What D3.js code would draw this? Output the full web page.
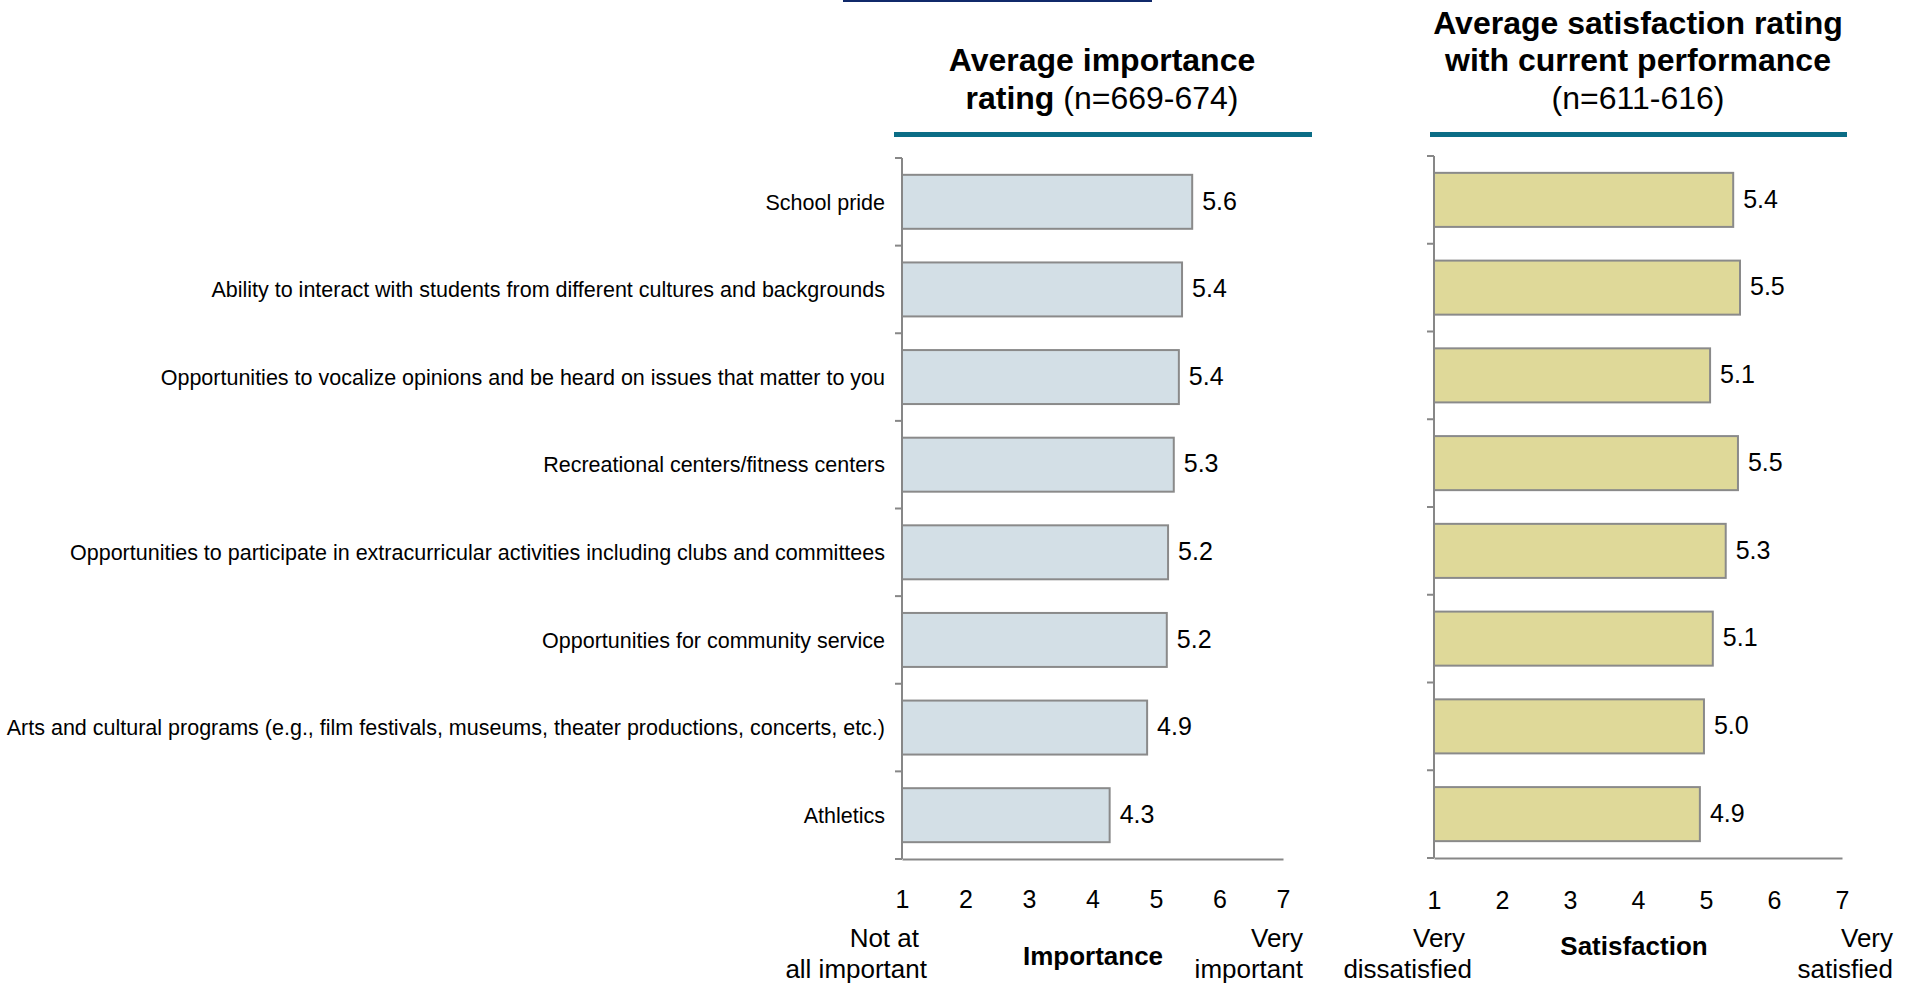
<!DOCTYPE html>
<html>
<head>
<meta charset="utf-8">
<script src="https://cdn.jsdelivr.net/npm/d3@7"></script>
<style>
  html, body { margin: 0; padding: 0; background: #ffffff; }
  svg { display: block; font-family: "Liberation Sans", Arial, Helvetica, sans-serif; }
</style>
</head>
<body>
<svg id="chart" width="1910" height="985"></svg>
<script>
// ---------- data ----------
const categories = [
  "School pride",
  "Ability to interact with students from different cultures and backgrounds",
  "Opportunities to vocalize opinions and be heard on issues that matter to you",
  "Recreational centers/fitness centers",
  "Opportunities to participate in extracurricular activities including clubs and committees",
  "Opportunities for community service",
  "Arts and cultural programs (e.g., film festivals, museums, theater productions, concerts, etc.)",
  "Athletics"
];
const importance = [5.57, 5.41, 5.36, 5.28, 5.19, 5.17, 4.86, 4.27];
const satisfaction = [5.40, 5.50, 5.06, 5.47, 5.29, 5.10, 4.97, 4.91];
const scaleTicks = [1, 2, 3, 4, 5, 6, 7];
const importanceTitle = ["Average importance", ["rating", " (n=669-674)"]];
const satisfactionTitle = ["Average satisfaction rating", "with current performance", "(n=611-616)"];
const importanceAnchors = [["Not at", "all important"], "Importance", ["Very", "important"]];
const satisfactionAnchors = [["Very", "dissatisfied"], "Satisfaction", ["Very", "satisfied"]];

// ---------- drawing ----------
const svg = d3.select("#chart");
const fmt = v => (Math.round(v * 10) / 10).toFixed(1);
const AXIS = "#878787";

// navy rule at very top
svg.append("line").attr("x1", 843).attr("x2", 1152).attr("y1", 1).attr("y2", 1)
  .attr("stroke", "#10296a").attr("stroke-width", 2);

function panel(opts) {
  const x = d3.scaleLinear().domain([1, 7]).range(opts.xr);
  const y = d3.scaleBand().domain(categories).range(opts.yr)
    .paddingInner(0.384).paddingOuter(0.192);
  const g = svg.append("g");

  // teal rule under title
  g.append("rect").attr("x", opts.rule[0]).attr("width", opts.rule[1] - opts.rule[0])
    .attr("y", 132).attr("height", 5).attr("fill", "#0b6d86");

  // bars
  g.selectAll("rect.bar").data(opts.values).join("rect").attr("class", "bar")
    .attr("x", x(1)).attr("y", (d, i) => y(categories[i]))
    .attr("width", d => x(d) - x(1)).attr("height", y.bandwidth())
    .attr("fill", opts.fill).attr("stroke", "#8a8a8a").attr("stroke-width", 2);

  // value labels
  g.selectAll("text.val").data(opts.values).join("text").attr("class", "val")
    .attr("x", d => x(d) + 10)
    .attr("y", (d, i) => y(categories[i]) + y.bandwidth() / 2)
    .attr("dy", "0.31em").attr("font-size", 25).attr("fill", "#000")
    .text(d => fmt(d));

  // category axis: line and ticks at category boundaries
  const yb = d3.scaleLinear().domain([0, categories.length]).range(opts.yr);
  g.append("line").attr("x1", x(1)).attr("x2", x(1)).attr("y1", yb(0)).attr("y2", yb(categories.length))
    .attr("stroke", AXIS).attr("stroke-width", 2);
  g.selectAll("line.yt").data(d3.range(categories.length + 1)).join("line").attr("class", "yt")
    .attr("x1", x(1) - 7).attr("x2", x(1)).attr("y1", d => yb(d)).attr("y2", d => yb(d))
    .attr("stroke", AXIS).attr("stroke-width", 2);

  // category labels
  if (opts.labels) {
    g.selectAll("text.cat").data(categories).join("text").attr("class", "cat")
      .attr("x", x(1) - 17).attr("y", d => y(d) + y.bandwidth() / 2)
      .attr("dy", "0.36em").attr("text-anchor", "end").attr("font-size", 21.5).attr("fill", "#000")
      .text(d => d);
  }

  // value axis
  const ax = g.append("g").attr("transform", `translate(0,${opts.yr[1]})`)
    .call(d3.axisBottom(x).tickValues(scaleTicks).tickSize(0).tickPadding(opts.tickPad).tickFormat(d3.format("d")));
  ax.select(".domain").attr("stroke", AXIS).attr("stroke-width", 2);
  ax.selectAll("text").attr("font-size", 25).attr("fill", "#000")
    .attr("font-family", "'Liberation Sans', Arial, sans-serif");

  // title
  const t = g.append("text").attr("text-anchor", "middle").attr("font-size", 32).attr("fill", "#000");
  opts.title.forEach((line, i) => {
    const yy = opts.titleY[i];
    if (Array.isArray(line)) {
      t.append("tspan").attr("x", opts.titleX).attr("y", yy).attr("font-weight", "bold").text(line[0]);
      t.append("tspan").attr("font-weight", "normal").text(line[1]);
    } else {
      t.append("tspan").attr("x", opts.titleX).attr("y", yy)
        .attr("font-weight", opts.boldLines[i] ? "bold" : "normal").text(line);
    }
  });

  // scale anchors
  const a = opts.anchors;
  const low = g.append("text").attr("text-anchor", "end").attr("font-size", 26).attr("fill", "#000");
  low.append("tspan").attr("x", opts.lowX[0]).attr("y", 947).text(a[0][0]);
  low.append("tspan").attr("x", opts.lowX[1]).attr("y", 978).text(a[0][1]);
  g.append("text").attr("text-anchor", "middle").attr("font-size", 26).attr("font-weight", "bold")
    .attr("x", opts.midX).attr("y", opts.midY).attr("fill", "#000").text(a[1]);
  const high = g.append("text").attr("text-anchor", "end").attr("font-size", 26).attr("fill", "#000");
  high.append("tspan").attr("x", opts.highX).attr("y", 947).text(a[2][0]);
  high.append("tspan").attr("x", opts.highX).attr("y", 978).text(a[2][1]);
}

panel({
  xr: [902, 1283], yr: [158, 859], values: importance, fill: "#d3dfe6", labels: true,
  rule: [894, 1312], tickPad: 31,
  title: importanceTitle, titleX: 1102, titleY: [71, 109], boldLines: [true],
  anchors: importanceAnchors, lowX: [919, 927], midX: 1093, midY: 965, highX: 1303
});
panel({
  xr: [1434, 1842], yr: [156, 858], values: satisfaction, fill: "#dfd999", labels: false,
  rule: [1430, 1847], tickPad: 33,
  title: satisfactionTitle, titleX: 1638, titleY: [34, 71, 109], boldLines: [true, true, false],
  anchors: satisfactionAnchors, lowX: [1465, 1472], midX: 1634, midY: 955, highX: 1893
});
</script>
</body>
</html>
